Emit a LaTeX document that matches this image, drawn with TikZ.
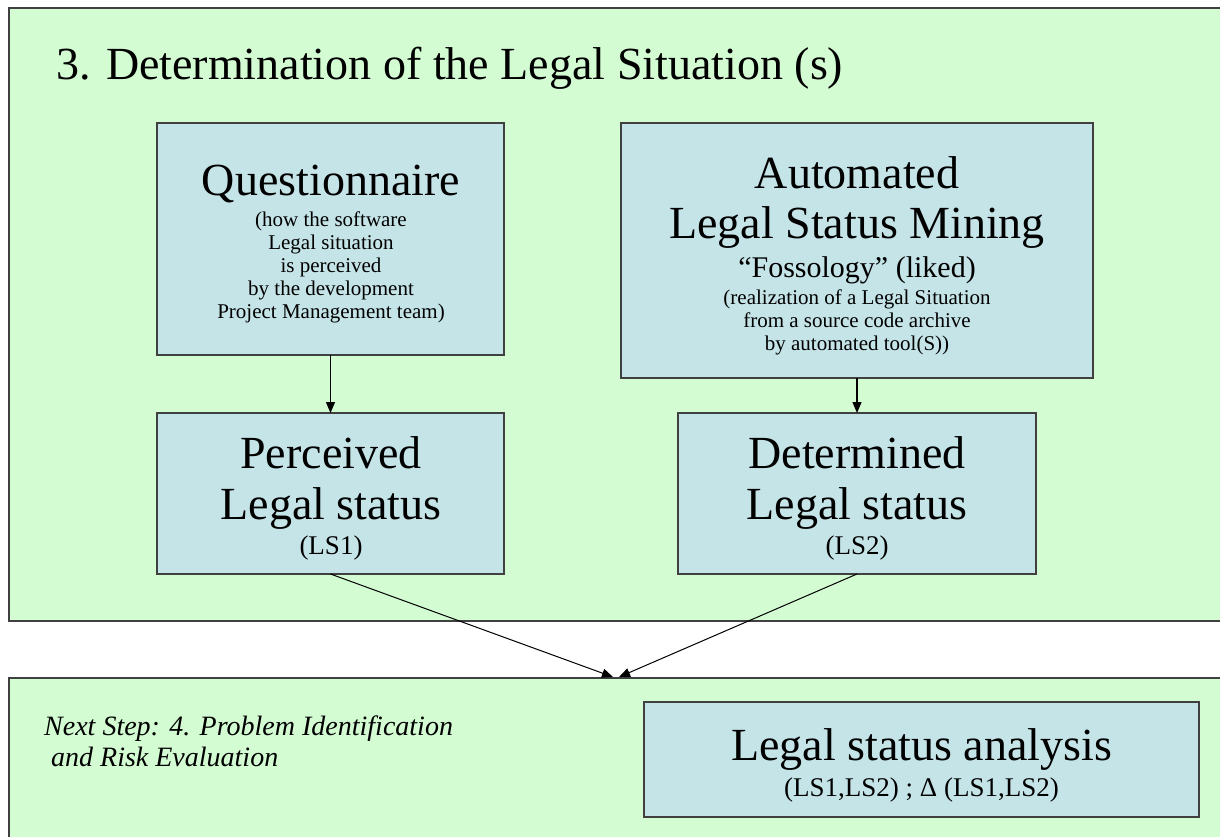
\documentclass[tikz,border=0pt]{standalone}
\usepackage{fontspec}
\setmainfont{Liberation Serif}
\usetikzlibrary{arrows.meta}
\definecolor{panelgreen}{RGB}{211,252,211}
\definecolor{boxblue}{RGB}{197,228,232}
\definecolor{edgegray}{RGB}{64,64,64}
\newcommand{\fsz}[1]{\fontsize{#1}{#1}\selectfont}

\begin{document}
\begin{tikzpicture}[x=1pt,y=-1pt,
  panel/.style={draw=edgegray, line width=2pt, fill=panelgreen},
  infobox/.style={draw=edgegray, line width=1.3pt, fill=boxblue, inner sep=0pt, outer sep=0pt},
  heading/.style={anchor=base, font=\fsz{46}, inner sep=0pt},
  subhead/.style={anchor=base, font=\fsz{30}, inner sep=0pt},
  note/.style={anchor=base, font=\fsz{21}, inner sep=0pt},
  tag/.style={anchor=base, font=\fsz{27}, inner sep=0pt},
  link/.style={line width=1.3pt, -{Triangle[length=11pt,width=9pt]}},
  slant/.style={line width=1pt, -{Triangle[length=11pt,width=9pt]}},
]
\clip (0,0) rectangle (1220,837);
\fill[white] (0,0) rectangle (1220,837);

% green panels
\draw[panel] (9,8) rectangle (1240,621);
\draw[panel] (9,678) rectangle (1240,860);

% title
\node[anchor=base west, font=\fsz{46}, inner sep=0pt] (title) at (56,80)
  {3. Determination of the Legal Situation (s)};

% boxes
\node[infobox, minimum width=347pt, minimum height=232pt] (quest) at (330.5,239) {};
\node[infobox, minimum width=472pt, minimum height=255pt] (auto)  at (857,250.5) {};
\node[infobox, minimum width=347pt, minimum height=161pt] (perc)  at (330.5,493.5) {};
\node[infobox, minimum width=358pt, minimum height=161pt] (det)   at (857,493.5) {};
\node[infobox, minimum width=555pt, minimum height=115pt] (ana)   at (921.5,759.5) {};

% questionnaire text
\node[heading] (q1) at (331,196) {Questionnaire};
\node[note] (q2) at (331,226) {(how the software};
\node[note] (q3) at (331,249) {Legal situation};
\node[note] (q4) at (331,272) {is perceived};
\node[note] (q5) at (331,295) {by the development};
\node[note] (q6) at (331,318) {Project Management team)};

% automated mining text
\node[heading] (a1) at (857,189) {Automated};
\node[heading] (a2) at (857,238) {Legal Status Mining};
\node[subhead] (a3) at (857,277) {“Fossology” (liked)};
\node[note] (a4) at (857,304) {(realization of a Legal Situation};
\node[note] (a5) at (857,327) {from a source code archive};
\node[note] (a6) at (857,350) {by automated tool(S))};

% perceived status text
\node[heading] (p1) at (331,468) {Perceived};
\node[heading] (p2) at (331,519) {Legal status};
\node[tag] (p3) at (331,554) {(LS1)};

% determined status text
\node[heading] (d1) at (857,468) {Determined};
\node[heading] (d2) at (857,519) {Legal status};
\node[tag] (d3) at (857,554) {(LS2)};

% analysis text
\node[heading] (n1) at (921.5,760) {Legal status analysis};
\node[tag] (n2) at (921.5,796) {(LS1,LS2) ; Δ (LS1,LS2)};

% next step note
\node[anchor=base west, font=\fsz{28}\itshape, inner sep=0pt] (next1) at (44,735)
  {Next Step: 4. Problem Identification};
\node[anchor=base west, font=\fsz{28}\itshape, inner sep=0pt] (next2) at (44,766)
  {\ and Risk Evaluation};

% connectors
\coordinate (tipL) at (613,677);
\coordinate (tipR) at (619,677);
\draw[link] (quest.south) -- (perc.north);
\draw[link] (auto.south) -- (det.north);
\draw[slant] (perc.south) -- (tipL);
\draw[slant] (det.south) -- (tipR);
\end{tikzpicture}
\end{document}
